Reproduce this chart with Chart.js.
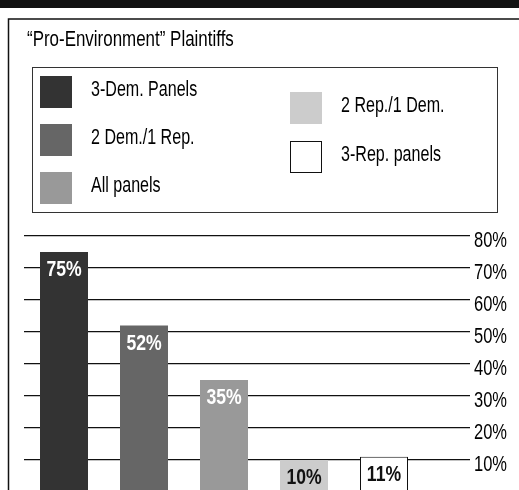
<!DOCTYPE html>
<html>
<head>
<meta charset="utf-8">
<script src="https://cdn.jsdelivr.net/npm/chart.js@4/dist/chart.umd.min.js"></script>
<style>
  html, body { margin: 0; padding: 0; background: #fff; overflow: hidden; }
  #wrap { width: 519px; height: 490px; overflow: hidden; }
  canvas { display: block; }
</style>
</head>
<body>
<div id="wrap"><canvas id="c" width="519" height="510"></canvas></div>
<script>
// no narrow face installed, so Liberation Sans is squeezed horizontally
const FONT = '"Liberation Sans", Arial, sans-serif';

const title = '\u201CPro-Environment\u201D Plaintiffs';
const categories = ['3-Dem. Panels', '2 Dem./1 Rep.', 'All panels', '2 Rep./1 Dem.', '3-Rep. panels'];
const values = [75, 52, 35, 10, 11];
const barColors = ['#333333', '#666666', '#999999', '#cccccc', '#ffffff'];
const labelColors = ['#ffffff', '#ffffff', '#ffffff', '#111111', '#111111'];
const yTicks = [10, 20, 30, 40, 50, 60, 70, 80];

function narrowText(ctx, text, x, y, font, align, squeeze) {
  ctx.save();
  ctx.font = font;
  ctx.textAlign = align || 'left';
  ctx.textBaseline = 'middle';
  ctx.translate(x, y);
  ctx.scale(squeeze || 0.8, 1);
  ctx.fillText(text, 0, 0);
  ctx.restore();
}

// frame, title and the two-column legend box above the plot
const framePlugin = {
  id: 'frame',
  beforeDraw(chart) {
    const ctx = chart.ctx;
    ctx.save();
    ctx.fillStyle = '#111';
    ctx.fillRect(0, 0, chart.width, 8);

    ctx.strokeStyle = '#111';
    ctx.lineWidth = 1.5;
    ctx.beginPath();
    ctx.moveTo(chart.width, 19);
    ctx.lineTo(8.5, 19);
    ctx.lineTo(8.5, chart.height);
    ctx.stroke();

    ctx.fillStyle = '#000';
    narrowText(ctx, title, 27, 40, '22px ' + FONT, 'left', 0.77);

    ctx.lineWidth = 1;
    ctx.strokeStyle = '#333';
    ctx.strokeRect(32.5, 67.5, 465, 145);

    const slots = [[40, 76], [40, 124], [40, 172], [290, 92], [290, 141]];
    categories.forEach((name, i) => {
      const [x, y] = slots[i];
      ctx.fillStyle = barColors[i];
      ctx.fillRect(x, y, 32, 32);
      if (barColors[i] === '#ffffff') {
        ctx.strokeStyle = '#111';
        ctx.strokeRect(x + 0.5, y + 0.5, 31, 31);
      }
      ctx.fillStyle = '#000';
      narrowText(ctx, name, x + 51, y + 14, '22px ' + FONT, 'left', 0.73);
    });
    ctx.restore();
  }
};

// percentage inside the top of each bar, plus the right-hand tick labels
const labelsPlugin = {
  id: 'labels',
  afterDatasetsDraw(chart) {
    const ctx = chart.ctx;
    const meta = chart.getDatasetMeta(0);
    meta.data.forEach((bar, i) => {
      ctx.fillStyle = labelColors[i];
      narrowText(ctx, values[i] + '%', bar.x, bar.y + 18, 'bold 22px ' + FONT, 'center', 0.8);
    });
    const ys = chart.scales.y;
    ctx.fillStyle = '#000';
    ys.ticks.forEach(t => {
      narrowText(ctx, t.value + '%', ys.left + 50, ys.getPixelForValue(t.value) + 5, '22px ' + FONT, 'left', 0.75);
    });
  }
};

new Chart(document.getElementById('c'), {
  type: 'bar',
  data: {
    labels: categories,
    datasets: [{
      data: values,
      backgroundColor: barColors,
      borderColor: '#111',
      borderWidth: values.map((v, i) => barColors[i] === '#ffffff' ? 1 : 0),
      barPercentage: 0.6,
      categoryPercentage: 1
    }]
  },
  options: {
    responsive: false,
    animation: false,
    devicePixelRatio: 1,
    layout: { padding: { left: 24, right: 0, top: 236, bottom: 18 } },
    plugins: { legend: { display: false }, tooltip: { enabled: false } },
    scales: {
      x: { display: false },
      y: {
        position: 'right',
        min: 0,
        max: 80,
        afterFit: s => { s.width = 95; },
        afterBuildTicks: s => { s.ticks = yTicks.map(v => ({ value: v })); },
        border: { display: false },
        grid: { color: '#111', lineWidth: 1.2, tickLength: 46, tickColor: '#111', tickWidth: 1.2 },
        ticks: { display: false }
      }
    }
  },
  plugins: [framePlugin, labelsPlugin]
});
</script>
</body>
</html>
